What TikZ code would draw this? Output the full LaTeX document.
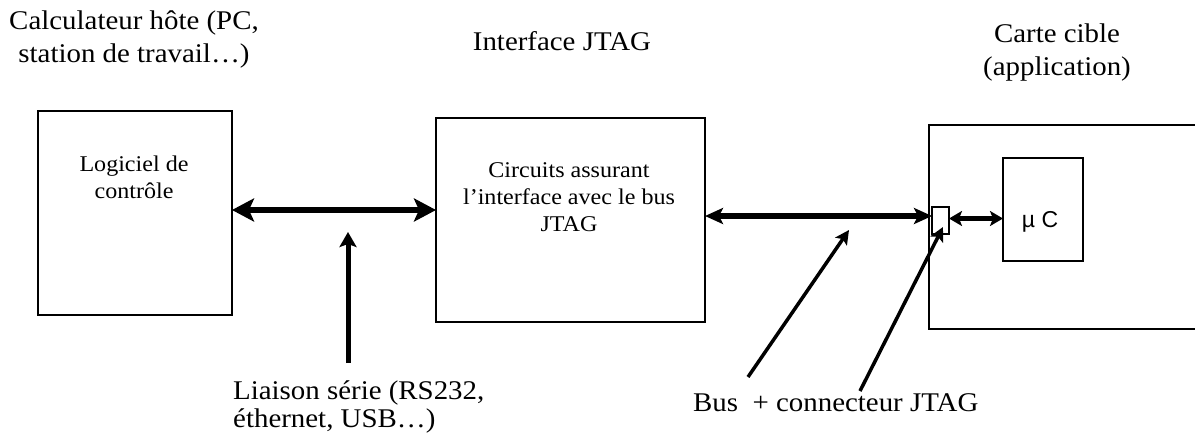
\documentclass[tikz,border=0pt]{standalone}
\usepackage{fontspec}
\setmainfont{Liberation Serif}[FakeStretch=1.07]
\newfontfamily\labsans{Liberation Sans}
\usetikzlibrary{arrows.meta}

\begin{document}
\begin{tikzpicture}[x=1pt,y=-1pt,
  blk/.style={draw, line width=1.4pt, inner sep=0pt, outer sep=0pt},
  boxtext/.style={font=\fontsize{22.5}{27}\selectfont, align=center, inner sep=0pt},
  title/.style={font=\fontsize{27}{33}\selectfont, align=center, inner sep=0pt},
  note/.style={font=\fontsize{27}{28}\selectfont, inner sep=0pt},
  bigarr/.style={line width=6pt,
    {Stealth[length=22pt,width=23pt,inset=5pt]}-{Stealth[length=22pt,width=23pt,inset=5pt]}},
  busarr/.style={line width=6pt,
    {Stealth[length=18pt,width=16pt,inset=4pt]}-{Stealth[length=18pt,width=16pt,inset=4pt]}},
  smallarr/.style={line width=5pt,
    {Stealth[length=13pt,width=15pt,inset=3pt]}-{Stealth[length=13pt,width=15pt,inset=3pt]}},
  pointer/.style={line width=5pt, -{Stealth[length=15pt,width=17pt,inset=3pt]}},
  thinpointer/.style={line width=3.5pt, -{Stealth[length=14pt,width=14pt,inset=3pt]}}]

\useasboundingbox (0,0) rectangle (1195,440);
\clip (0,0) rectangle (1195,440);

% blocks
\node[blk, minimum width=194pt, minimum height=204pt] (host) at (135,213) {};
\node[blk, minimum width=269pt, minimum height=204pt] (jtag) at (570.5,220) {};
\node[blk, minimum width=331pt, minimum height=204pt] (board) at (1094.5,227) {};
\node[blk, minimum width=80pt, minimum height=103pt] (mcu) at (1043,209.5) {};
\node[blk, minimum width=17pt, minimum height=27pt] (conn) at (940.5,220.5) {};

% texts inside blocks
\node[boxtext, anchor=north] (hosttxt) at (134,155.5) {Logiciel de\\contrôle};
\node[boxtext, anchor=north] (jtagtxt) at (569,162.5) {Circuits assurant\\l’interface avec le bus\\JTAG};
\node[font=\labsans\fontsize{23}{27}\selectfont, inner sep=0pt] (mcutxt) at (1040,222) {µ C};

% titles
\node[title, anchor=north] (hosttitle) at (134,11) {Calculateur hôte (PC,\\station de travail…)};
\node[title, anchor=base] (jtagtitle) at (562,50) {Interface JTAG};
\node[title, anchor=north] (boardtitle) at (1057,24) {Carte cible\\(application)};

% notes below
\node[note, anchor=north west, align=left] (serial) at (233,381) {Liaison série (RS232,\\éthernet, USB…)};
\node[note, anchor=base west] (bus) at (693,411) {Bus~ + connecteur JTAG};

% links
\draw[bigarr] ([yshift=3pt]host.east) -- ([yshift=3pt]host.east -| jtag.west);
\draw[busarr] ([yshift=4pt]jtag.east) -- ([yshift=4pt]jtag.east -| conn.west);
\draw[smallarr] ([yshift=2pt]conn.east) -- ([yshift=2pt]conn.east -| mcu.west);

% pointers from the notes
\coordinate (serialtail) at (348,363);
\coordinate (serialtip) at (348,232);
\draw[pointer] (serialtail) -- (serialtip);

\coordinate (bustail) at (748,377);
\coordinate (bustip) at (849,230);
\draw[thinpointer] (bustail) -- (bustip);

\coordinate (conntail) at (860,391);
\coordinate (conntip) at (943,227);
\draw[thinpointer] (conntail) -- (conntip);
\end{tikzpicture}
\end{document}
